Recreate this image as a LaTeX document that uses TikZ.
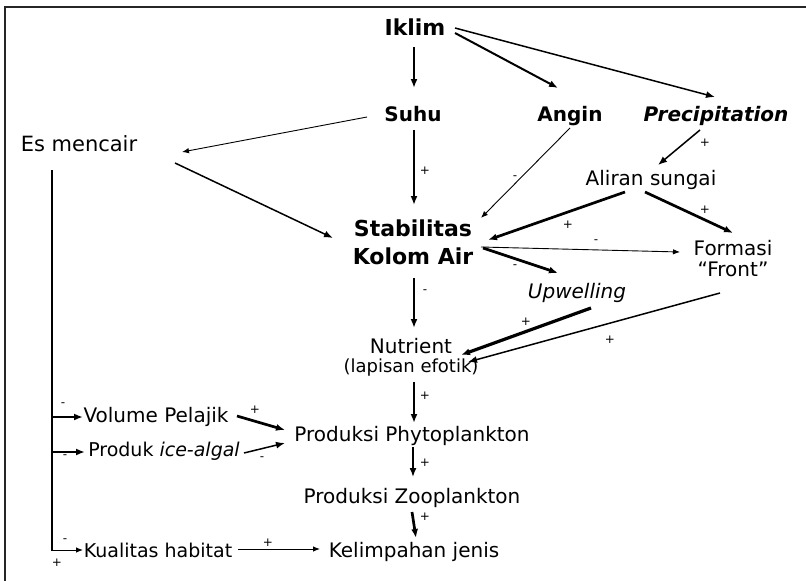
\documentclass[tikz,border=0pt]{standalone}
\usepackage{fontspec}
\setmainfont{DejaVu Sans}
\usetikzlibrary{arrows.meta}
\begin{document}
\begin{tikzpicture}[x=1pt,y=-1pt,
  every node/.style={inner sep=0pt, outer sep=0pt},
  reg/.style={font=\fontsize{20}{22}\selectfont, text height=15pt, text depth=5pt},
  regb/.style={font=\fontsize{20}{22}\selectfont\bfseries, text height=15pt, text depth=5pt},
  bigb/.style={font=\fontsize{22}{28}\selectfont\bfseries, text height=16.5pt, text depth=5.5pt},
  esfont/.style={font=\fontsize{21}{24}\selectfont, text height=15.75pt, text depth=5.25pt},
  lbl/.style={font=\fontsize{12}{12}\selectfont},
  hA/.style={-{Latex[length=7pt,width=5.5pt]}},
  hB/.style={-{Latex[length=9pt,width=7pt]}},
  wa/.style={line width=0.9pt, hA},
  wb/.style={line width=1.5pt, hB},
  wc/.style={line width=2pt, hB},
  wd/.style={line width=2.7pt, hB},
  frame/.style={line width=1.6pt, draw=black!85}
]
\useasboundingbox (0,0) rectangle (806,581);
\draw[frame] (806,7) -- (5,7) -- (5,581);

% nodes
\node[bigb] (ik) at (415,29.5) {Iklim};
\node[regb] (su) at (413,116) {Suhu};
\node[regb] (an) at (570,116) {Angin};
\node[regb] (pr) at (716,116) {\itshape Precipitation};
\node[esfont] (es) at (79,146) {Es mencair};
\node[reg] (al) at (651,180) {Aliran sungai};
\node[align=center, font=\fontsize{22}{28}\selectfont\bfseries] (st) at (413,242.6) {Stabilitas\\Kolom Air};
\node[align=center, font=\fontsize{20}{21}\selectfont] (fo) at (733,259) {Formasi\\“Front”};
\node[reg] (up) at (577,293) {\itshape Upwelling};
\node[align=center, font=\fontsize{20}{21}\selectfont] (nu) at (411,357) {Nutrient\\[-2pt]{\fontsize{18}{18}\selectfont(lapisan efotik)}};
\node[reg] (vo) at (156,417) {Volume Pelajik};
\node[reg, font=\fontsize{19}{22}\selectfont] (pd) at (164,451) {Produk {\itshape ice-algal}};
\node[reg] (ph) at (412,436) {Produksi Phytoplankton};
\node[reg] (zo) at (412,498) {Produksi Zooplankton};
\node[reg, font=\fontsize{19}{22}\selectfont] (ku) at (158,552) {Kualitas habitat};
\node[reg] (ke) at (414,552) {Kelimpahan jenis};

\coordinate (jv) at (52,417);
\coordinate (jp) at (52,452);
\coordinate (jb) at (51,550);

% connectors
\draw[wc] ([shift={(-1,17.5)}]ik.center) -- ([shift={(1,-28)}]su.center);
\draw[wc] ([shift={(40,3.5)}]ik.center) -- ([shift={(-12,-28)}]an.center);
\draw[wb] ([shift={(40,-1.5)}]ik.center) -- ([shift={(-1,-19)}]pr.center);
\draw[wa] ([shift={(-46,1)}]su.center) -- ([shift={(103,6)}]es.center);
\draw[wb] ([shift={(96,17)}]es.center) -- ([shift={(-80,-4.6)}]st.center);
\draw[wc] ([shift={(1,14)}]su.center) -- ([shift={(1,-37.6)}]st.center);
\draw[wa] ([shift={(0,12)}]an.center) -- ([shift={(68,-24.6)}]st.center);
\draw[wb] ([shift={(-16,14)}]pr.center) -- ([shift={(7,-15)}]al.center);
\draw[wd] ([shift={(-26,12)}]al.center) -- ([shift={(75,-2.6)}]st.center);
\draw[wd] ([shift={(-6,12)}]al.center) -- ([shift={(0,-26)}]fo.center);
\draw[wa] ([shift={(68,4.4)}]st.center) -- ([shift={(-53,-7)}]fo.center);
\draw[wd] ([shift={(70,5.4)}]st.center) -- ([shift={(-19,-20)}]up.center);
\draw[wc] ([shift={(1,35.4)}]st.center) -- ([shift={(3,-29)}]nu.center);
\draw[line width=3.2pt, hB] ([shift={(14,15)}]up.center) -- ([shift={(50,-2)}]nu.center);
\draw[wb] ([shift={(-13,34)}]fo.center) -- ([shift={(57,5)}]nu.center);
\draw[wc] ([shift={(3,25)}]nu.center) -- ([shift={(2,-13)}]ph.center);
\draw[wb] ([shift={(1,11)}]ph.center) -- ([shift={(1,-21)}]zo.center);
\draw[wd] ([shift={(0,14)}]zo.center) -- ([shift={(2,-14)}]ke.center);
\draw[line width=1.4pt] ([shift={(-27,24)}]es.center) -- (52,550.7);
\draw[wa] (jb) -- ([shift={(-75,-2)}]ku.center);
\draw[wd] (jv) -- ([shift={(-73,0)}]vo.center);
\draw[wd] (jp) -- ([shift={(-79,1)}]pd.center);
\draw[wd] ([shift={(81,-1)}]vo.center) -- ([shift={(-127,-6)}]ph.center);
\draw[wb] ([shift={(80,2)}]pd.center) -- ([shift={(-127,7)}]ph.center);
\draw[wa] ([shift={(80,-3)}]ku.center) -- ([shift={(-94,-3)}]ke.center);

% labels
\node[lbl] (l1) at (425,171) {+};
\node[lbl] (l2) at (515,178) {-};
\node[lbl] (l3) at (705,143) {+};
\node[lbl] (l4) at (568,225) {+};
\node[lbl] (l5) at (705,210) {+};
\node[lbl] (l6) at (596,242) {-};
\node[lbl] (l7) at (515,267) {-};
\node[lbl] (l8) at (425,292) {-};
\node[lbl] (l9) at (526,322) {+};
\node[lbl] (l10) at (610,340) {+};
\node[lbl] (l11) at (425,396) {+};
\node[lbl] (l12) at (425,463) {+};
\node[lbl] (l13) at (425,517) {+};
\node[lbl] (l14) at (63,405) {-};
\node[lbl] (l15) at (65,457) {-};
\node[lbl] (l16) at (255,410) {+};
\node[lbl] (l17) at (262,459) {-};
\node[lbl] (l18) at (268,543) {+};
\node[lbl] (l19) at (65,541) {-};
\node[lbl] (l20) at (57,563) {+};
\end{tikzpicture}
\end{document}
